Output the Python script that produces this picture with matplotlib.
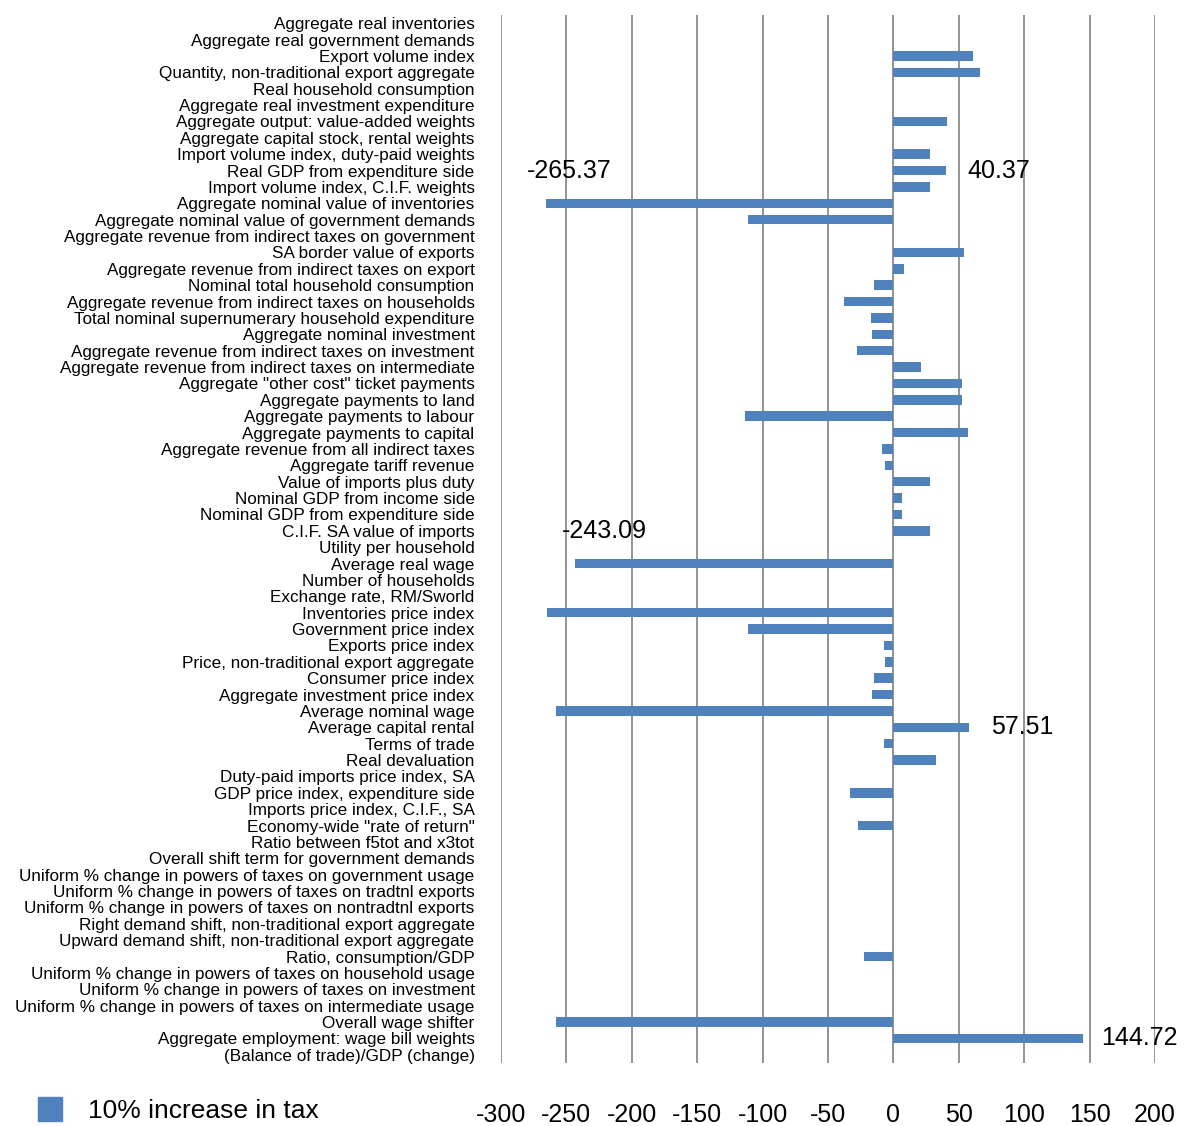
import matplotlib
matplotlib.use("Agg")
import matplotlib.pyplot as plt
from matplotlib.patches import Patch

categories = [
    "Aggregate real inventories",
    "Aggregate real government demands",
    "Export volume index",
    "Quantity, non-traditional export aggregate",
    "Real household consumption",
    "Aggregate real investment expenditure",
    "Aggregate output: value-added weights",
    "Aggregate capital stock, rental weights",
    "Import volume index, duty-paid weights",
    "Real GDP from expenditure side",
    "Import volume index, C.I.F. weights",
    "Aggregate nominal value of inventories",
    "Aggregate nominal value of government demands",
    "Aggregate revenue from indirect taxes on government",
    "SA border value of exports",
    "Aggregate revenue from indirect taxes on export",
    "Nominal total household consumption",
    "Aggregate revenue from indirect taxes on households",
    "Total nominal supernumerary household expenditure",
    "Aggregate nominal investment",
    "Aggregate revenue from indirect taxes on investment",
    "Aggregate revenue from indirect taxes on intermediate",
    "Aggregate \"other cost\" ticket payments",
    "Aggregate payments to land",
    "Aggregate payments to labour",
    "Aggregate payments to capital",
    "Aggregate revenue from all indirect taxes",
    "Aggregate tariff revenue",
    "Value of imports plus duty",
    "Nominal GDP from income side",
    "Nominal GDP from expenditure side",
    "C.I.F. SA value of imports",
    "Utility per household",
    "Average real wage",
    "Number of households",
    "Exchange rate, RM/Sworld",
    "Inventories price index",
    "Government price index",
    "Exports price index",
    "Price, non-traditional export aggregate",
    "Consumer price index",
    "Aggregate investment price index",
    "Average nominal wage",
    "Average capital rental",
    "Terms of trade",
    "Real devaluation",
    "Duty-paid imports price index, SA",
    "GDP price index, expenditure side",
    "Imports price index, C.I.F., SA",
    "Economy-wide \"rate of return\"",
    "Ratio between f5tot and x3tot",
    "Overall shift term for government demands",
    "Uniform % change in powers of taxes on government usage",
    "Uniform % change in powers of taxes on tradtnl exports",
    "Uniform % change in powers of taxes on nontradtnl exports",
    "Right demand shift, non-traditional export aggregate",
    "Upward demand shift, non-traditional export aggregate",
    "Ratio, consumption/GDP",
    "Uniform % change in powers of taxes on household usage",
    "Uniform % change in powers of taxes on investment",
    "Uniform % change in powers of taxes on intermediate usage",
    "Overall wage shifter",
    "Aggregate employment: wage bill weights",
    "(Balance of trade)/GDP (change)",
]

values = [
    0, 0, 61.0, 66.2, 0, 0, 40.9, 0, 28.1, 40.37,
    28.1, -265.37, -111.2, 0, 53.6, 8.2, -15.1, -38.1, -17.5, -16.5,
    -27.8, 20.9, 52.5, 52.5, -113.6, 57.3, -8.9, -6.5, 28.1, 6.5,
    6.5, 28.1, 0, -243.09, 0, 0, -264.9, -111.2, -7.2, -6.2,
    -15.1, -16.5, -258.2, 57.51, -7.2, 32.6, 0, -33.0, 0, -26.8,
    0, 0, 0, 0, 0, 0, 0, -22.7, 0, 0,
    0, -258.2, 144.72, 0,
]

xticks = [-300, -250, -200, -150, -100, -50, 0, 50, 100, 150, 200]
series_name = "10% increase in tax"

# (category index, text, dx points, rows up)
annotations = [
    (11, "-265.37", -14, 2),
    (9, "40.37", 15, 0),
    (33, "-243.09", -10, 2),
    (43, "57.51", 16, 0),
    (62, "144.72", 13, 0),
]

bar_color = "#4F81BD"
W, H = 1184, 1126
fig = plt.figure(figsize=(W / 100, H / 100), dpi=100)
ax = fig.add_axes([501 / W, 1 - 1063 / H, (1155 - 501) / W, (1063 - 15) / H])

ypos = list(range(len(categories)))
ax.barh(ypos, values, height=0.58, color=bar_color, zorder=3)

ax.set_xlim(-300, 200)
ax.set_ylim(len(categories) - 0.5, -0.5)
ax.set_xticks(xticks)
ax.set_xticklabels([str(t) for t in xticks], family="Liberation Sans", fontsize=18)
ax.set_yticks(ypos)
ax.set_yticklabels(categories, family="Liberation Sans", fontsize=12.3)
ax.tick_params(axis="x", length=0, pad=29)
ax.tick_params(axis="y", length=0, pad=19)
ax.grid(axis="x", color="#8a8a8a", linewidth=1.3, zorder=0)
ax.set_axisbelow(True)
for s in ax.spines.values():
    s.set_visible(False)

for idx, txt, dx, up in annotations:
    v = values[idx]
    ax.annotate(txt, xy=(v, idx - up), xytext=(dx, 0), textcoords="offset points",
                ha="left", va="center", family="Liberation Sans", fontsize=18)

handle = Patch(facecolor=bar_color, edgecolor=bar_color)
fig.legend(handles=[handle], labels=[series_name], loc="center left",
           bbox_to_anchor=(38 / W, 1 - 1110 / H), frameon=False,
           prop={"family": "Liberation Sans", "size": 19},
           handlelength=0.9, handleheight=1.05, handletextpad=1.0,
           borderpad=0, borderaxespad=0)

fig.savefig("out.png", dpi=100)
